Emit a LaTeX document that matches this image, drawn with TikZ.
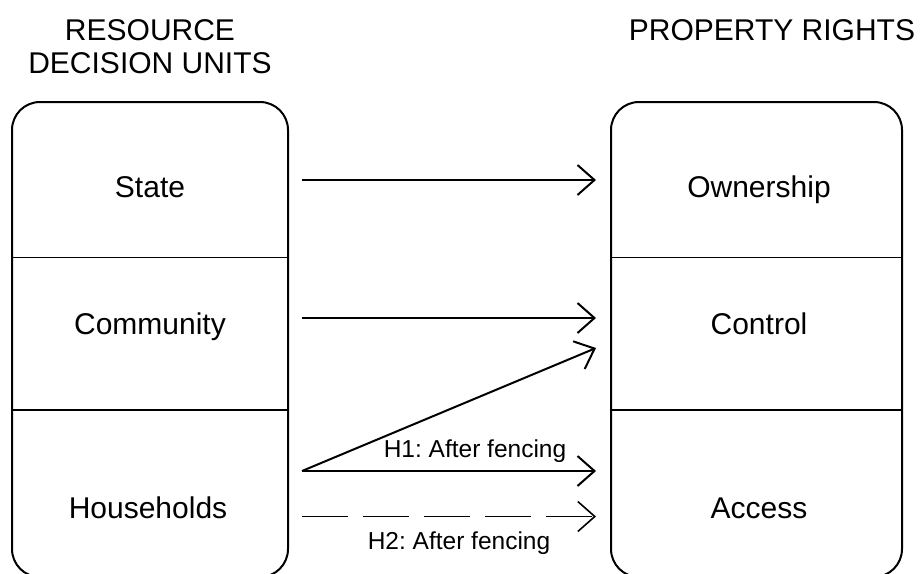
\documentclass[tikz,border=0pt]{standalone}
\usepackage{fontspec}
\setmainfont{Liberation Sans}
\usetikzlibrary{arrows.meta}
\frenchspacing
\begin{document}
\begin{tikzpicture}[x=1pt,y=-1pt,
  boxline/.style={line width=2pt, rounded corners=28pt},
  divline/.style={line width=1.2pt},
  bigtext/.style={font=\fontsize{30}{33}\selectfont, inner sep=0pt, anchor=base, align=center},
  smalltext/.style={font=\fontsize{24.5}{28}\selectfont, inner sep=0pt, anchor=base},
  conn/.style={line width=2pt, -{Straight Barb[length=17pt,width=30pt]}},
  dconn/.style={line width=1.2pt, dash pattern=on 46pt off 15pt, -{Straight Barb[length=17pt,width=30pt,line width=1.6pt]}}]
\useasboundingbox (0,0) rectangle (920,573);
\fill[white] (0,0) rectangle (920,573);
\begin{scope}
\clip (0,0) rectangle (920,573);
\draw[boxline] (12,102) rectangle (288,577);
\draw[boxline] (611,102) rectangle (902,577);
\end{scope}
\draw[divline] (12,257.5) -- (288,257.5);
\draw[divline] (12,410) -- (288,410);
\draw[divline] (611,257.5) -- (902,257.5);
\draw[divline] (611,410) -- (902,410);

\node[bigtext] (hleft) at (150,73) {RESOURCE\\DECISION UNITS};
\node[bigtext] (hright) at (772,40) {PROPERTY RIGHTS};

\node[bigtext] (state) at (150,197) {State};
\node[bigtext] (community) at (150,334) {Community};
\node[bigtext] (households) at (148,518) {Households};
\node[bigtext] (ownership) at (759,197) {Ownership};
\node[bigtext] (control) at (759,334) {Control};
\node[bigtext] (access) at (759,518) {Access};

\coordinate (s1) at (302,180);
\coordinate (e1) at (596,180);
\coordinate (s2) at (302,318);
\coordinate (e2) at (596,318);
\coordinate (s3) at (302,471);
\coordinate (e3) at (596,348);
\coordinate (e4) at (596,471);
\coordinate (s5) at (302,516.5);
\coordinate (e5) at (596,516.5);

\draw[conn] (s1) -- (e1);
\draw[conn] (s2) -- (e2);
\draw[conn] (s3) -- (e3);
\draw[conn] (s3) -- (e4);
\draw[dconn] (s5) -- (e5);

\node[smalltext] (h1) at (475,457) {H1: After fencing};
\node[smalltext] (h2) at (459,549) {H2: After fencing};
\end{tikzpicture}
\end{document}
